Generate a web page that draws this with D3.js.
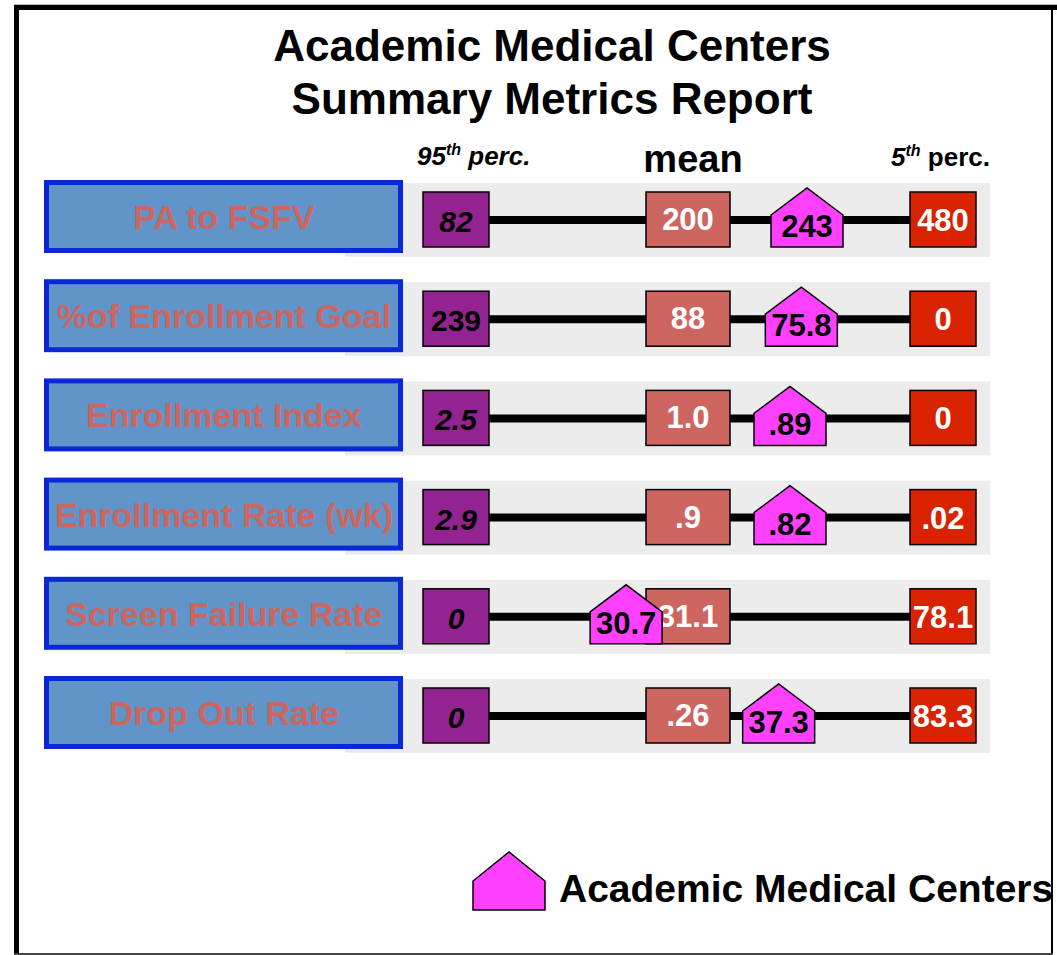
<!DOCTYPE html>
<html>
<head>
<meta charset="utf-8">
<script src="https://cdn.jsdelivr.net/npm/d3@7"></script>
<style>
  html, body { margin: 0; padding: 0; background: #fff; }
  svg { display: block; font-family: "Liberation Sans", Arial, sans-serif; }
</style>
</head>
<body>
<svg id="chart" width="1057" height="955"></svg>
<script>
// ---- data ----
const metrics = ["PA to FSFV", "%of Enrollment Goal", "Enrollment Index",
                 "Enrollment Rate (wk)", "Screen Failure Rate", "Drop Out Rate"];
const p95Labels  = ["82", "239", "2.5", "2.9", "0", "0"];
const meanLabels = ["200", "88", "1.0", ".9", "31.1", ".26"];
const p5Labels   = ["480", "0", "0", ".02", "78.1", "83.3"];
const amcLabels  = ["243", "75.8", ".89", ".82", "30.7", "37.3"];
// estimated percentile standing of Academic Medical Centers
const amcPercentile = [29, 30, 32, 32, 62, 34];
const percentileStops = [95, 50, 5];      // 95th perc., mean, 5th perc.
const headerLabels = ["95th perc.", "mean", "5th perc."];
const title = ["Academic Medical Centers", "Summary Metrics Report"];
const legendLabel = "Academic Medical Centers";

// ---- setup ----
const svg = d3.select("#chart");

const x = d3.scaleLinear().domain(percentileStops).range([456, 688, 943]);
const y = d3.scalePoint().domain(metrics).range([220, 716]);

const C = {
  labelFill: "#6195c9", labelStroke: "#0a28d8", labelText: "#cc6660",
  band: "#ececec", p95: "#922390", mean: "#cd6661", p5: "#d82200", amc: "#ff40ff"
};

// frame
svg.append("rect").attr("x", 14).attr("y", 4).attr("width", 1043).attr("height", 1).attr("fill", "#bbb");
svg.append("rect").attr("x", 14).attr("y", 5).attr("width", 1043).attr("height", 5).attr("fill", "#000");
svg.append("rect").attr("x", 14).attr("y", 5).attr("width", 5).attr("height", 950).attr("fill", "#000");
svg.append("rect").attr("x", 1051).attr("y", 5).attr("width", 2).attr("height", 950).attr("fill", "#000");
svg.append("rect").attr("x", 14).attr("y", 953).attr("width", 1039).attr("height", 2).attr("fill", "#444");

// title
svg.append("g").selectAll("text").data(title).join("text")
  .attr("x", 552).attr("y", (d, i) => 61 + i * 53)
  .attr("text-anchor", "middle").attr("font-weight", "bold").attr("font-size", 44)
  .attr("fill", "#000").text(d => d);

// headers
const hdr = svg.append("g").attr("font-weight", "bold").attr("fill", "#000");
const h95 = hdr.append("text").attr("x", 417).attr("y", 165)
  .attr("font-size", 26).attr("font-style", "italic");
h95.append("tspan").text("95");
h95.append("tspan").attr("font-size", 16).attr("dy", -10).text("th");
h95.append("tspan").attr("dy", 10).text(" perc.");
hdr.append("text").attr("x", x(50) + 5).attr("y", 172).attr("text-anchor", "middle")
  .attr("font-size", 38).text(headerLabels[1]);
const h5 = hdr.append("text").attr("x", 891).attr("y", 166)
  .attr("font-size", 26);
h5.append("tspan").attr("font-style", "italic").text("5");
h5.append("tspan").attr("font-style", "italic").attr("font-size", 16).attr("dy", -10).text("th");
h5.append("tspan").attr("dy", 10).text(" perc.");

// rows
const rows = svg.append("g").selectAll("g").data(metrics).join("g")
  .attr("transform", d => `translate(0,${y(d)})`);

rows.append("rect").attr("x", 345).attr("y", -37).attr("width", 645).attr("height", 74)
  .attr("fill", C.band);

rows.append("rect").attr("x", 46.5).attr("y", -37.5).attr("width", 354).attr("height", 68)
  .attr("fill", C.labelFill).attr("stroke", C.labelStroke).attr("stroke-width", 5);
rows.append("text").attr("x", 224).attr("y", 9).attr("text-anchor", "middle")
  .attr("font-weight", "bold").attr("font-size", 34).attr("fill", C.labelText).text(d => d);

rows.append("line").attr("x1", x(95)).attr("x2", x(5)).attr("y1", 0).attr("y2", 0)
  .attr("stroke", "#000").attr("stroke-width", 8);

function box(sel, cx, w, fill) {
  sel.append("rect").attr("x", cx - w / 2).attr("y", -28).attr("width", w).attr("height", 55)
    .attr("fill", fill).attr("stroke", "#000").attr("stroke-width", 1.5);
}
box(rows, x(95), 66, C.p95);
box(rows, x(50), 84, C.mean);
box(rows, x(5), 66, C.p5);

rows.append("text").attr("x", x(95)).attr("y", 12).attr("text-anchor", "middle")
  .attr("font-weight", "bold").attr("font-size", 30)
  .attr("font-style", (d, i) => i === 1 ? "normal" : "italic")
  .attr("fill", "#000").text((d, i) => p95Labels[i]);
rows.append("text").attr("x", x(50)).attr("y", 10).attr("text-anchor", "middle")
  .attr("font-weight", "bold").attr("font-size", 31).attr("fill", "#fff")
  .text((d, i) => meanLabels[i]);
rows.append("text").attr("x", x(5)).attr("y", 11).attr("text-anchor", "middle")
  .attr("font-weight", "bold").attr("font-size", 31).attr("fill", "#fff")
  .text((d, i) => p5Labels[i]);

const pent = (w, top, sh, bot) =>
  `M${-w / 2},${bot}L${-w / 2},${sh}L0,${top}L${w / 2},${sh}L${w / 2},${bot}Z`;

const amc = rows.append("g").attr("transform", (d, i) => `translate(${x(amcPercentile[i])},0)`);
amc.append("path").attr("d", pent(72, -32, -5, 27))
  .attr("fill", C.amc).attr("stroke", "#000").attr("stroke-width", 1.5);
amc.append("text").attr("x", 0).attr("y", 17).attr("text-anchor", "middle")
  .attr("font-weight", "bold").attr("font-size", 31).attr("fill", "#000")
  .text((d, i) => amcLabels[i]);

// legend
const lg = svg.append("g").attr("transform", "translate(509,0)");
lg.append("path").attr("d", pent(72, 852, 881, 910))
  .attr("fill", C.amc).attr("stroke", "#000").attr("stroke-width", 1.5);
svg.append("text").attr("x", 559).attr("y", 902).attr("font-weight", "bold")
  .attr("font-size", 39).attr("fill", "#000").text(legendLabel);
</script>
</body>
</html>
